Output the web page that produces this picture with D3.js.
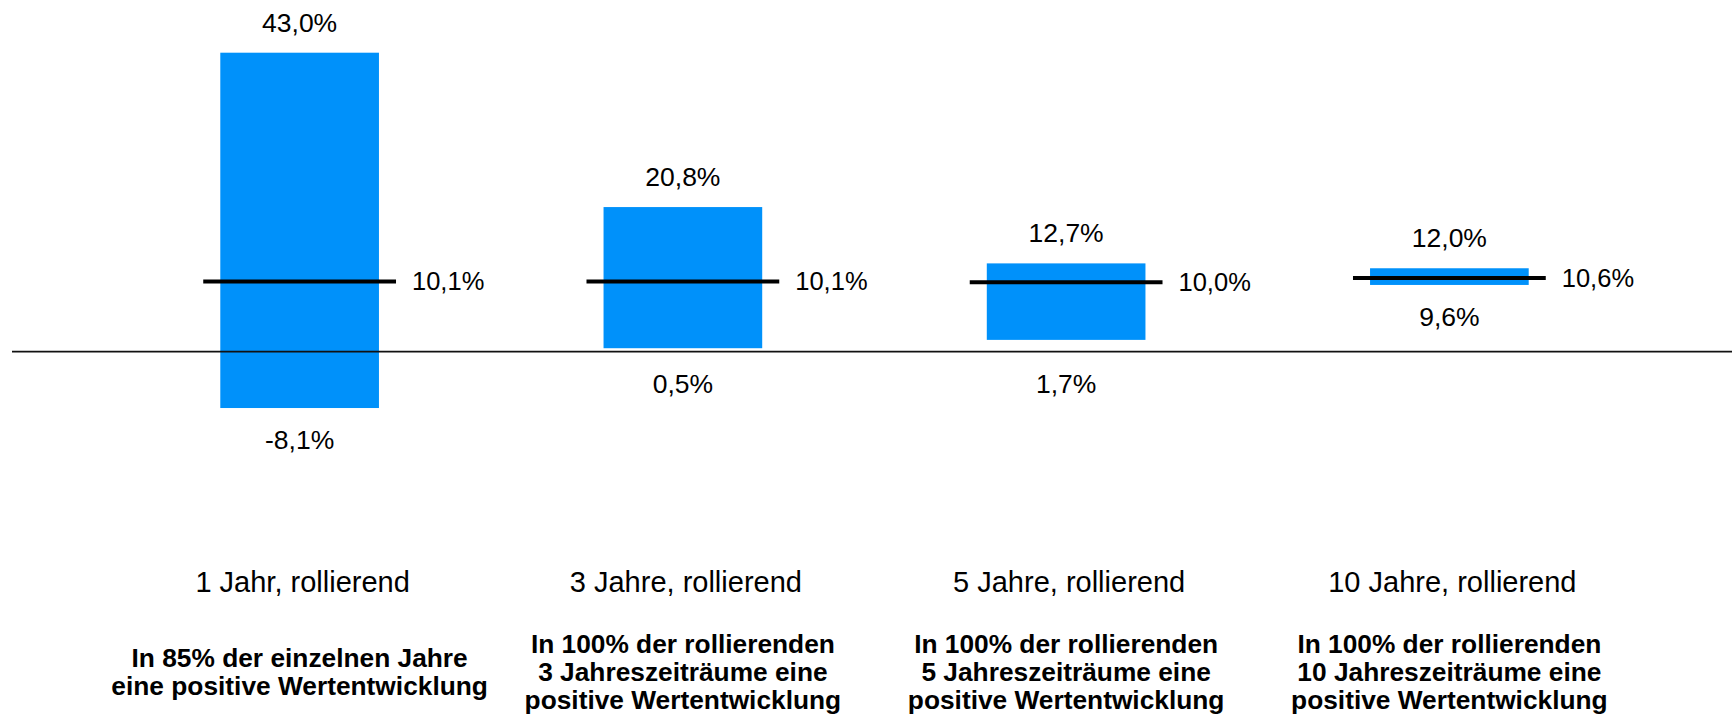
<!DOCTYPE html>
<html>
<head>
<meta charset="utf-8">
<script src="https://cdn.jsdelivr.net/npm/d3@7"></script>
<style>
  body { margin: 0; background: #fff; }
  text { font-family: "Liberation Sans", Arial, sans-serif; fill: #000; }
</style>
</head>
<body>
<svg id="chart"></svg>
<script>
const categories = ["1 Jahr, rollierend", "3 Jahre, rollierend", "5 Jahre, rollierend", "10 Jahre, rollierend"];
const maxValues = [43.0, 20.8, 12.7, 12.0];
const minValues = [-8.1, 0.5, 1.7, 9.6];
const avgValues = [10.1, 10.1, 10.0, 10.6];
const notes = [
  ["In 85% der einzelnen Jahre", "eine positive Wertentwicklung"],
  ["In 100% der rollierenden", "3 Jahreszeiträume eine", "positive Wertentwicklung"],
  ["In 100% der rollierenden", "5 Jahreszeiträume eine", "positive Wertentwicklung"],
  ["In 100% der rollierenden", "10 Jahreszeiträume eine", "positive Wertentwicklung"]
];

const width = 1732, height = 718;
const fmt = v => v.toFixed(1).replace(".", ",") + "%";

const data = categories.map((c, i) => ({
  cat: c, max: maxValues[i], min: minValues[i], avg: avgValues[i], note: notes[i]
}));

const svg = d3.select("#chart")
  .attr("width", width)
  .attr("height", height);

const x = d3.scaleBand()
  .domain(categories)
  .range([108, 1641])
  .padding(0);

const y = d3.scaleLinear()
  .domain([0, 43])
  .range([351.7, 52.7]);

const bw = x.bandwidth();
const barW = bw * 0.414;
const lineW = bw * 0.503;
const cx = d => x(d.cat) + bw / 2;

// bars from min to max
svg.selectAll(".bar")
  .data(data)
  .enter()
  .append("rect")
  .attr("class", "bar")
  .attr("x", d => cx(d) - barW / 2)
  .attr("y", d => y(d.max))
  .attr("width", barW)
  .attr("height", d => y(d.min) - y(d.max))
  .attr("fill", "#0091fa");

// zero line
svg.append("line")
  .attr("x1", 12)
  .attr("x2", width)
  .attr("y1", y(0))
  .attr("y2", y(0))
  .attr("stroke", "#111")
  .attr("stroke-width", 1.8);

// average lines
svg.selectAll(".avg")
  .data(data)
  .enter()
  .append("line")
  .attr("class", "avg")
  .attr("x1", d => cx(d) - lineW / 2)
  .attr("x2", d => cx(d) + lineW / 2)
  .attr("y1", d => y(d.avg))
  .attr("y2", d => y(d.avg))
  .attr("stroke", "#000")
  .attr("stroke-width", 4);

svg.selectAll(".avg-label")
  .data(data)
  .enter()
  .append("text")
  .attr("class", "avg-label")
  .attr("x", d => cx(d) + lineW / 2 + 16)
  .attr("y", d => y(d.avg) + 9)
  .attr("font-size", 25.5)
  .text(d => fmt(d.avg));

svg.selectAll(".max-label")
  .data(data)
  .enter()
  .append("text")
  .attr("class", "max-label")
  .attr("x", d => cx(d))
  .attr("y", d => y(d.max) - 21)
  .attr("text-anchor", "middle")
  .attr("font-size", 26.5)
  .text(d => fmt(d.max));

// min label goes under the axis when the bar ends near zero
svg.selectAll(".min-label")
  .data(data)
  .enter()
  .append("text")
  .attr("class", "min-label")
  .attr("x", d => cx(d))
  .attr("y", d => {
    const yb = y(d.min);
    return (y(0) - yb >= 0 && y(0) - yb < 40 ? y(0) : yb) + 41;
  })
  .attr("text-anchor", "middle")
  .attr("font-size", 26.5)
  .text(d => fmt(d.min));

svg.selectAll(".cat-label")
  .data(data)
  .enter()
  .append("text")
  .attr("class", "cat-label")
  .attr("x", d => cx(d) + 3)
  .attr("y", 591.5)
  .attr("text-anchor", "middle")
  .attr("font-size", 29)
  .text(d => d.cat);

const noteText = svg.selectAll(".note")
  .data(data)
  .enter()
  .append("text")
  .attr("class", "note")
  .attr("text-anchor", "middle")
  .attr("font-size", 26.3)
  .attr("font-weight", "bold");

noteText.selectAll("tspan")
  .data(d => d.note.map((t, j) => ({ t, j, n: d.note.length, x: cx(d) })))
  .enter()
  .append("tspan")
  .attr("x", l => l.x)
  .attr("y", l => 681 + (l.j - (l.n - 1) / 2) * 28)
  .text(l => l.t);
</script>
</body>
</html>
